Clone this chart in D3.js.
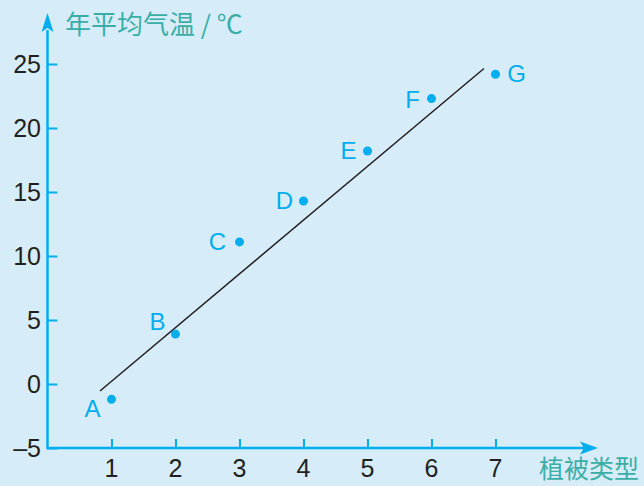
<!DOCTYPE html>
<html><head><meta charset="utf-8">
<script src="https://cdn.jsdelivr.net/npm/d3@7"></script>
<style>
html,body{margin:0;padding:0;background:#d6edf9;}
svg{display:block;}
</style></head>
<body>
<svg id="c" width="644" height="486"></svg>
<script>
const pointLabels = ["A","B","C","D","E","F","G"];
const vegType = [1,2,3,4,5,6,7];
const avgTemp = [-1.2, 3.9, 11.1, 14.3, 18.2, 22.3, 24.2];
const trendX = [0.82, 6.82];
const trendY = [-0.55, 24.65];
const yTicks = [-5, 0, 5, 10, 15, 20, 25];
const xTicks = [1, 2, 3, 4, 5, 6, 7];
const yTitle = "年平均气温 / ℃";
const xTitle = "植被类型";

const svg = d3.select("#c");
const axisColor = "#00aeef";
const x = d3.scaleLinear().domain([0, 8]).range([47.5, 559.5]);
const y = d3.scaleLinear().domain([-5, 25]).range([448, 64]);

svg.append("rect").attr("width",644).attr("height",486).attr("fill","#d6edf9");

const font = "Liberation Sans, Arial, sans-serif";
// axes lines
svg.append("line").attr("x1", x(0)).attr("x2", 584).attr("y1", y(-5)).attr("y2", y(-5))
  .attr("stroke", axisColor).attr("stroke-width", 2.5);
svg.append("line").attr("x1", x(0)).attr("x2", x(0)).attr("y1", y(-5)+1.2).attr("y2", 30)
  .attr("stroke", axisColor).attr("stroke-width", 2.5);
// arrows
svg.append("path").attr("d", `M${x(0)},13 L${x(0)+6},32 L${x(0)},28 L${x(0)-6},32 Z`).attr("fill", axisColor);
svg.append("path").attr("d", `M598,${y(-5)} L580,${y(-5)-6.5} L584,${y(-5)} L580,${y(-5)+6.5} Z`).attr("fill", axisColor);

// y ticks
const yAxis = d3.axisRight(y).tickValues(yTicks).tickSize(10).tickFormat("");
const gy = svg.append("g").attr("transform", `translate(${x(0)},0)`).call(yAxis);
gy.select(".domain").remove();
gy.selectAll("line").attr("stroke", axisColor).attr("stroke-width", 2);
svg.selectAll(".ylab").data(yTicks).join("text")
  .attr("x", 41).attr("y", d => y(d)).attr("dy", "0.36em")
  .attr("text-anchor", "end").attr("font-family", font).attr("font-size", 25)
  .attr("fill", "#231f20").text(d => d < 0 ? "\u2013" + Math.abs(d) : d);

// x ticks
const xAxis = d3.axisTop(x).tickValues(xTicks).tickSize(9).tickFormat("");
const gx = svg.append("g").attr("transform", `translate(0,${y(-5)})`).call(xAxis);
gx.select(".domain").remove();
gx.selectAll("line").attr("stroke", axisColor).attr("stroke-width", 2);
svg.selectAll(".xlab").data(xTicks).join("text")
  .attr("x", d => x(d)).attr("y", 477)
  .attr("text-anchor", "middle").attr("font-family", font).attr("font-size", 25)
  .attr("fill", "#231f20").text(d => d);

// trend line
svg.append("line").attr("x1", x(trendX[0])).attr("y1", y(trendY[0]))
  .attr("x2", x(trendX[1])).attr("y2", y(trendY[1]))
  .attr("stroke", "#231f20").attr("stroke-width", 1.5);

// points
svg.selectAll("circle.pt").data(vegType).join("circle")
  .attr("cx", d => x(d)).attr("cy", (d,i) => y(avgTemp[i])).attr("r", 4.5).attr("fill", axisColor);

// labels
const off = [[-19, 18], [-18, -4], [-22, 8], [-19, 8], [-19, 8], [-19, 9], [21, 8]];
svg.selectAll("text.pl").data(vegType).join("text")
  .attr("x", (d,i) => x(d) + off[i][0]).attr("y", (d,i) => y(avgTemp[i]) + off[i][1])
  .attr("text-anchor", "middle").attr("font-family", font).attr("font-size", 24)
  .attr("fill", axisColor).text((d,i) => pointLabels[i]);

// titles
svg.append("text").attr("x", 65).attr("y", 34).attr("font-family", "Noto Sans CJK SC, sans-serif")
  .attr("font-size", 26).attr("fill", "#3aaea6").text(yTitle);
svg.append("text").attr("x", 539).attr("y", 478).attr("font-family", "Noto Sans CJK SC, sans-serif")
  .attr("font-size", 25).attr("fill", "#3aaea6").text(xTitle);
</script>
</body></html>
